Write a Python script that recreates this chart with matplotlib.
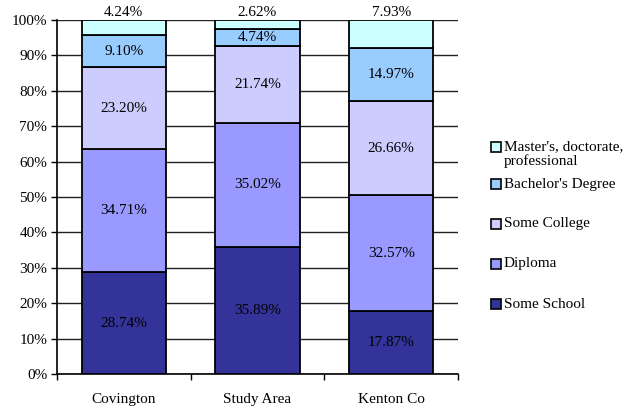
import matplotlib.pyplot as plt
from matplotlib.patches import Rectangle
import numpy as np

plt.rcParams['font.family'] = ['Liberation Serif', 'DejaVu Serif']

areas = ['Covington', 'Study Area', 'Kenton Co']
levels = ['Some School', 'Diploma', 'Some College', "Bachelor's Degree",
          "Master's, doctorate,\nprofessional"]

some_school = [28.74, 35.89, 17.87]
diploma = [34.71, 35.02, 32.57]
some_college = [23.20, 21.74, 26.66]
bachelors = [9.10, 4.74, 14.97]
masters = [4.24, 2.62, 7.93]

colors = ['#333399', '#9999FF', '#CCCCFF', '#99CCFF', '#CCFFFF']
fs = 11
W, H = 623, 409

fig = plt.figure(figsize=(W / 100, H / 100), dpi=100)
ax = fig.add_axes([57 / W, 1 - 374 / H, 401 / W, 354 / H])

x = np.arange(len(areas))
bottom = np.zeros(len(areas))
series = [some_school, diploma, some_college, bachelors, masters]
for i, (vals, col, name) in enumerate(zip(series, colors, levels)):
    vals = np.array(vals)
    ax.bar(x, vals, 0.63, bottom=bottom, color=col, edgecolor='black',
           linewidth=1.3, label=name, zorder=3)
    for xi, v, bt in zip(x, vals, bottom):
        # top segment is too thin, so its value sits above the bar
        if i == len(series) - 1:
            ypos = 102.0
        else:
            ypos = bt + v / 2
        ax.text(xi, ypos, f'{v:.2f}%', ha='center', va='center',
                fontsize=fs, color='black', zorder=4, clip_on=False)
    bottom += vals

ax.set_xlim(-0.5, 2.5)
ax.set_ylim(0, 100)
ax.set_yticks(np.arange(0, 101, 10))
ax.set_yticklabels([f'{t}%' for t in range(0, 101, 10)], fontsize=fs)
ax.yaxis.grid(True, color='#222222', linewidth=1.0, zorder=0)
ax.set_xticks(x)
ax.set_xticklabels(areas, fontsize=fs)
ax.set_xticks([-0.5, 0.5, 1.5, 2.5], minor=True)
ax.tick_params(axis='x', which='major', length=0, pad=14)
ax.tick_params(axis='x', which='minor', length=4, direction='out', width=1)
ax.tick_params(axis='y', length=4, direction='out', width=1, pad=3)

for s in ['top', 'right']:
    ax.spines[s].set_visible(False)
ax.spines['left'].set_linewidth(1.2)
ax.spines['bottom'].set_linewidth(1.2)

# legend drawn by hand so the two-line entry keeps its box on the first line
rows_px = [304, 264, 224, 184, 147]
box = 10
for name, col, yp in zip(levels, colors, rows_px):
    fig.patches.append(Rectangle(((491) / W, 1 - (yp + box / 2) / H),
                                 box / W, box / H, transform=fig.transFigure,
                                 facecolor=col, edgecolor='black',
                                 linewidth=1.2))
    nlines = name.count('\n')
    fig.text(504 / W, 1 - (yp + 7 * nlines) / H, name, ha='left',
             va='center', fontsize=fs, linespacing=1.05)

fig.savefig('out.png', dpi=100)
